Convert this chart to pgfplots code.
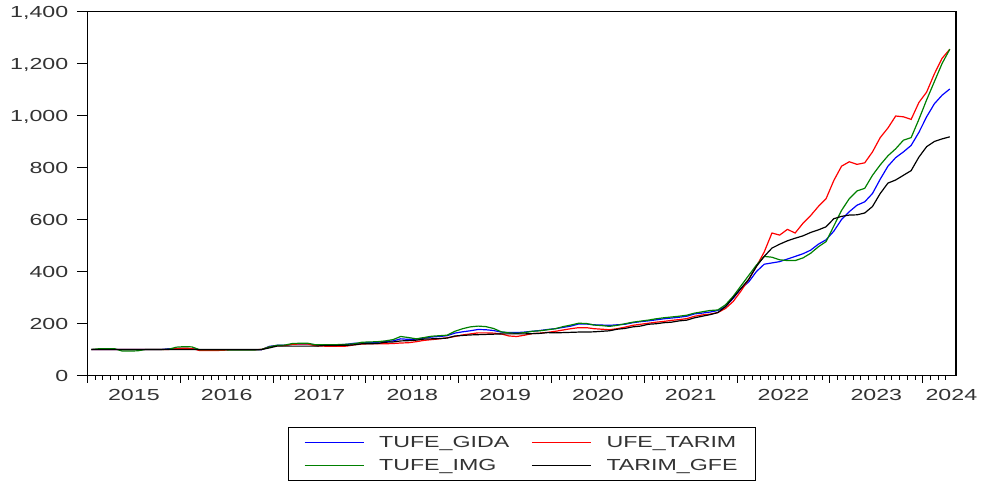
\documentclass[border=0pt]{standalone}
\usepackage{fontspec}
\setmainfont{Liberation Sans}[FakeStretch=1.45]
\usepackage{pgfplots}
\pgfplotsset{compat=1.18}
\usepackage{pgfplotstable}
\definecolor{txtgray}{gray}{0.2}
\definecolor{egreen}{RGB}{0,128,0}

\pgfplotstableread{
i gida tarim img gfe
0 100 100 100 100
1 100 100 103 100
2 100 100 103 100
3 100 100 103 100
4 100 100 94 100
5 100 100 94 100
6 100 100 95 100
7 100 100 100 100
8 100 100 100 100
9 100 100 100 100
10 103 100 101 100
11 103 104 109 100
12 104 105 111 100
13 103 104 110 100
14 99 96 99 100
15 99 96 99 100
16 99 96 99 100
17 99 97 99 100
18 99 99 98 100
19 99 99 98 100
20 99 99 98 100
21 99 99 98 100
22 99 100 100 100
23 112 110 110 106
24 116 114 116 113
25 116 115 117 113
26 120 120 123 113
27 121 121 124 113
28 121 121 124 113
29 118 114 118 113
30 117 113 118 115
31 117 112 118 115
32 118 112 119 116
33 120 113 120 116
34 124 118 122 118
35 125 121 128 122
36 127 122 129 122
37 128 122 130 123
38 130 122 133 128
39 133 123 138 129
40 141 125 150 133
41 139 126 146 134
42 140 130 141 136
43 144 135 146 140
44 148 138 151 141
45 150 141 153 142
46 153 145 155 144
47 163 150 170 152
48 168 156 180 154
49 172 160 187 156
50 177 164 190 157
51 176 164 188 158
52 173 163 181 159
53 167 160 168 160
54 165 152 164 160
55 165 150 162 160
56 167 155 165 160
57 170 161 170 161
58 173 163 172 162
59 177 166 176 165
60 180 170 180 164
61 185 175 188 165
62 190 180 194 166
63 198 184 201 167
64 198 184 200 167
65 195 180 194 168
66 194 178 192 170
67 193 176 189 172
68 195 180 193 178
69 197 186 199 181
70 203 193 205 187
71 207 197 209 190
72 210 201 213 197
73 214 205 218 199
74 218 208 222 203
75 221 212 225 205
76 224 215 228 210
77 228 219 232 213
78 237 228 240 222
79 240 233 245 228
80 244 236 250 234
81 250 242 252 242
82 265 258 272 265
83 297 285 305 300
84 335 325 345 335
85 360 370 385 370
86 400 420 425 420
87 428 475 458 458
88 433 548 455 490
89 438 540 445 505
90 448 562 442 518
91 458 548 442 528
92 468 585 452 537
93 482 615 470 550
94 505 650 495 560
95 522 680 515 572
96 555 750 575 603
97 600 805 635 612
98 630 822 680 617
99 655 812 710 618
100 668 818 720 625
101 700 860 770 650
102 755 915 810 700
103 805 952 845 740
104 838 998 872 752
105 860 995 905 770
106 885 985 915 788
107 935 1050 985 840
108 995 1090 1060 880
109 1045 1160 1130 900
110 1078 1220 1200 910
111 1102 1255 1255 918
}\data

\begin{document}
\begin{tikzpicture}
\useasboundingbox (0,0) rectangle (982bp,481bp);
\begin{axis}[
  at={(87.5bp,105.5bp)}, anchor=south west,
  width=868.5bp, height=364bp, scale only axis,
  xmin=-0.5, xmax=111.8, ymin=0, ymax=1400,
  axis line style={line width=1.2bp},
  tick pos=left, tick align=outside,
  tick style={line width=1bp, black},
  major tick length=7bp, minor tick length=4bp,
  xtick={-0.5,11.5,23.5,35.5,47.5,59.5,71.5,83.5,95.5,107.5},
  xticklabels={,,,,,,,,,},
  minor xtick={0.5,1.5,...,110.5},
  extra x ticks={5.5,17.5,29.5,41.5,53.5,65.5,77.5,89.5,101.5,111.2},
  extra x tick labels={2015,2016,2017,2018,2019,2020,2021,2022,2023,2024},
  extra x tick style={major tick length=0pt},
  ytick={0,200,...,1400},
  ytick style={/pgfplots/major tick length=10.5bp},
  tick label style={font=\fontsize{16bp}{19bp}\selectfont, text=txtgray, inner sep=0pt},
  yticklabel style={text height=11.5bp, text depth=0pt, xshift=-12bp},
  xticklabel style={text height=11.5bp, text depth=0pt, yshift=-13bp},
  /pgf/number format/assume math mode=true,
  legend columns=2,
  legend style={
    at={(0.5,0)}, anchor=north, yshift=-51.5bp,
    inner xsep=16bp, inner ysep=7bp,
    font=\fontsize{16bp}{19bp}\selectfont,
    row sep=6bp,
    /tikz/every odd column/.append style={column sep=13bp},
    /tikz/every even column/.append style={column sep=20bp},
  },
  legend cell align=left,
  legend image code/.code={\draw[#1] (0bp,0bp) -- (59bp,0bp);},
]
\addplot[draw=blue, line width=1.2bp] table[x=i, y=gida] {\data};
\addlegendentry{\textcolor{txtgray}{TUFE\_GIDA}}
\addplot[draw=red, line width=1.2bp] table[x=i, y=tarim] {\data};
\addlegendentry{\textcolor{txtgray}{UFE\_TARIM}}
\addplot[draw=egreen, line width=1.2bp] table[x=i, y=img] {\data};
\addlegendentry{\textcolor{txtgray}{TUFE\_IMG}}
\addplot[draw=black, line width=1.2bp] table[x=i, y=gfe] {\data};
\addlegendentry{\textcolor{txtgray}{TARIM\_GFE}}
\end{axis}
\end{tikzpicture}
\end{document}
